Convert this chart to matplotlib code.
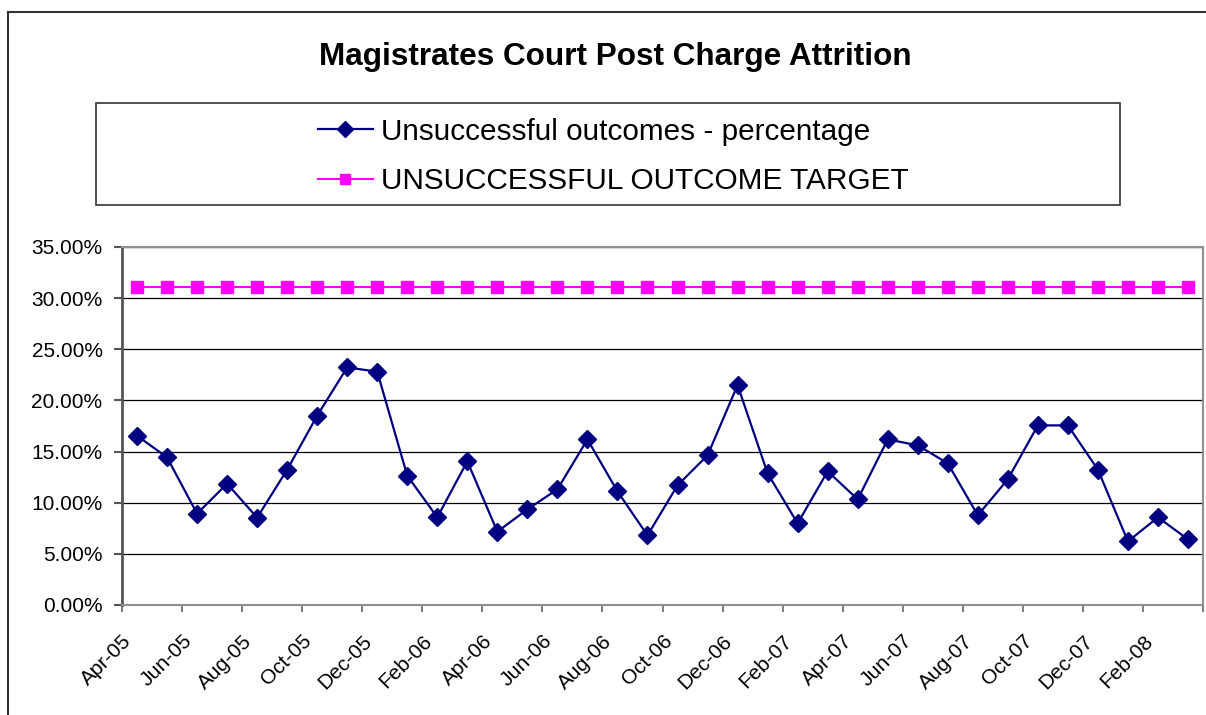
import matplotlib.pyplot as plt
from matplotlib.patches import Rectangle
from matplotlib.lines import Line2D
from matplotlib.ticker import FuncFormatter

plt.rcParams['font.family'] = ['Liberation Sans', 'DejaVu Sans']

# monthly values, Apr-05 .. Mar-08 (percent)
months = ['Apr-05', 'May-05', 'Jun-05', 'Jul-05', 'Aug-05', 'Sep-05', 'Oct-05', 'Nov-05',
          'Dec-05', 'Jan-06', 'Feb-06', 'Mar-06', 'Apr-06', 'May-06', 'Jun-06', 'Jul-06',
          'Aug-06', 'Sep-06', 'Oct-06', 'Nov-06', 'Dec-06', 'Jan-07', 'Feb-07', 'Mar-07',
          'Apr-07', 'May-07', 'Jun-07', 'Jul-07', 'Aug-07', 'Sep-07', 'Oct-07', 'Nov-07',
          'Dec-07', 'Jan-08', 'Feb-08', 'Mar-08']
unsuccessful = [16.55, 14.43, 8.93, 11.86, 8.54, 13.23, 18.51, 23.23,
                22.81, 12.64, 8.57, 14.05, 7.17, 9.35, 11.31, 16.19,
                11.11, 6.81, 11.70, 14.63, 21.50, 12.87, 7.98, 13.07,
                10.33, 16.19, 15.61, 13.85, 8.77, 12.29, 17.56, 17.56,
                13.23, 6.22, 8.57, 6.42]
target = [31.1] * len(months)

W, H = 1206, 715
fig = plt.figure(figsize=(W / 100, H / 100), dpi=100)

# outer chart frame (runs off the right and bottom edges)
fig.add_artist(Line2D([8 / W, 8 / W], [0, 1 - 12 / H], transform=fig.transFigure,
                      color='#333333', lw=1.5))
fig.add_artist(Line2D([8 / W, 1], [1 - 12 / H, 1 - 12 / H], transform=fig.transFigure,
                      color='#333333', lw=1.5))

ax = fig.add_axes([122 / W, 1 - 605 / H, (1203 - 122) / W, (605 - 247) / H])

x = list(range(len(months)))
ax.plot(x, unsuccessful, color='#000080', lw=1.6, marker='D', ms=9,
        label='Unsuccessful outcomes - percentage')
ax.plot(x, target, color='#FF00FF', lw=1.5, marker='s', ms=9,
        label='UNSUCCESSFUL OUTCOME TARGET')

ax.set_xlim(-0.5, len(months) - 0.5)
ax.set_ylim(0, 35)
ax.set_yticks([0, 5, 10, 15, 20, 25, 30, 35])
ax.yaxis.set_major_formatter(FuncFormatter(lambda v, p: f'{v:.2f}%'))
ax.grid(axis='y', color='black', lw=0.9)
ax.set_axisbelow(True)

tick_pos = [i - 0.5 for i in range(0, len(months) + 1, 2)]
ax.set_xticks(tick_pos)
ax.set_xticklabels([months[int(p + 0.5)] if int(p + 0.5) < len(months) else '' for p in tick_pos],
                   rotation=45, ha='right', va='top', rotation_mode='anchor')
ax.tick_params(axis='x', length=5, color='#808080', width=1.5, labelsize=15, pad=14)
ax.tick_params(axis='y', length=6, color='#555555', width=1.5, labelsize=15, pad=8)

for s in ['top', 'right', 'bottom']:
    ax.spines[s].set_color('#909090')
    ax.spines[s].set_linewidth(1.5)
ax.spines['left'].set_color('#555555')
ax.spines['left'].set_linewidth(2)

fig.text(615 / W, 1 - 57 / H, 'Magistrates Court Post Charge Attrition',
         ha='center', va='center', fontsize=22.7, fontweight='bold')

# legend box
fig.add_artist(Rectangle((96 / W, 1 - 205 / H), (1120 - 96) / W, (205 - 103) / H,
                         transform=fig.transFigure, fill=False, edgecolor='#333333', lw=1.2))
handles, labels = ax.get_legend_handles_labels()
fig.legend(handles, labels, loc='center', bbox_to_anchor=(613 / W, 1 - 156.5 / H),
           frameon=False, fontsize=21.4, handlelength=1.85, handletextpad=0.27,
           labelspacing=0.74, markerscale=0.85)

fig.savefig('out.png', dpi=100)
